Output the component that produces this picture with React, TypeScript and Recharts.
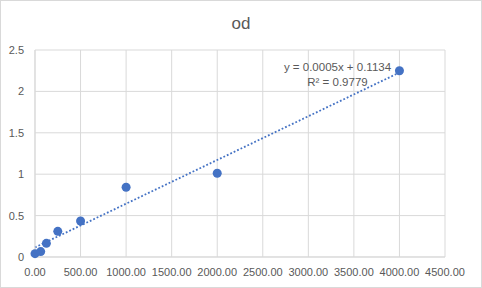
import React from "react";
import {
  ScatterChart,
  Scatter,
  XAxis,
  YAxis,
  CartesianGrid,
  ReferenceLine,
  Customized,
} from "recharts";

const concentrations = [0, 62.5, 125, 250, 500, 1000, 2000, 4000];
const odValues = [0.04, 0.065, 0.165, 0.31, 0.435, 0.842, 1.012, 2.249];
const xTicks = [0, 500, 1000, 1500, 2000, 2500, 3000, 3500, 4000, 4500];
const yTicks = [0, 0.5, 1, 1.5, 2, 2.5];
const chartTitle = "od";
const equationText = "y = 0.0005x + 0.1134";
const rSquaredText = "R² = 0.9779";

const data = concentrations.map((x, i) => ({ x, y: odValues[i] }));

// least-squares trendline from the data
const n = concentrations.length;
const meanX = concentrations.reduce((a, b) => a + b, 0) / n;
const meanY = odValues.reduce((a, b) => a + b, 0) / n;
let sxy = 0;
let sxx = 0;
for (let i = 0; i < n; i++) {
  sxy += (concentrations[i] - meanX) * (odValues[i] - meanY);
  sxx += (concentrations[i] - meanX) ** 2;
}
const slope = sxy / sxx;
const intercept = meanY - slope * meanX;
const xMin = Math.min(...concentrations);
const xMax = Math.max(...concentrations);

const FONT = "'Liberation Sans', Arial, sans-serif";
const TEXT = "#595959";
const BLUE = "#4472C4";

export default function App() {
  return (
    <div
      style={{
        position: "absolute",
        left: 0,
        top: 0,
        width: 482,
        height: 288,
        boxSizing: "border-box",
        border: "1px solid #d9d9d9",
        background: "#fff",
      }}
    >
      <div style={{ position: "absolute", left: -1, top: -1 }}>
        <ScatterChart
          width={482}
          height={288}
          margin={{ top: 50, right: 37, bottom: 0, left: 0 }}
          style={{ fontFamily: FONT }}
        >
          <CartesianGrid stroke="#d9d9d9" strokeWidth={1} />
          <XAxis
            type="number"
            dataKey="x"
            domain={[0, 4500]}
            ticks={xTicks}
            tickFormatter={(v: number) => v.toFixed(2)}
            height={31}
            tickLine={false}
            tickSize={0}
            tickMargin={11}
            axisLine={{ stroke: "#d9d9d9" }}
            tick={{ fill: TEXT, fontSize: 11, fontFamily: FONT }}
            interval={0}
          />
          <YAxis
            type="number"
            dataKey="y"
            domain={[0, 2.5]}
            ticks={yTicks}
            width={35}
            tickLine={false}
            tickSize={0}
            tickMargin={11}
            axisLine={{ stroke: "#d9d9d9" }}
            tick={{ fill: TEXT, fontSize: 11, fontFamily: FONT }}
            interval={0}
          />
          <ReferenceLine
            segment={[
              { x: xMin, y: intercept + slope * xMin },
              { x: xMax, y: intercept + slope * xMax },
            ]}
            stroke={BLUE}
            strokeWidth={1.8}
            strokeDasharray="1.8 2"
            ifOverflow="visible"
          />
          <Scatter
            data={data}
            fill={BLUE}
            isAnimationActive={false}
            shape={(p: any) => (
              <circle cx={p.cx} cy={p.cy} r={4.5} fill={BLUE} />
            )}
          />
          <Customized
            component={() => (
              <g style={{ fontFamily: FONT }}>
                <text
                  x={241}
                  y={29}
                  textAnchor="middle"
                  fill={TEXT}
                  fontSize={17}
                  fontFamily={FONT}
                >
                  {chartTitle}
                </text>
                <text
                  x={337.5}
                  y={71}
                  textAnchor="middle"
                  fill={TEXT}
                  fontSize={11.5}
                  fontFamily={FONT}
                >
                  {equationText}
                </text>
                <text
                  x={337.5}
                  y={86}
                  textAnchor="middle"
                  fill={TEXT}
                  fontSize={11.5}
                  fontFamily={FONT}
                >
                  {rSquaredText}
                </text>
              </g>
            )}
          />
        </ScatterChart>
      </div>
    </div>
  );
}
